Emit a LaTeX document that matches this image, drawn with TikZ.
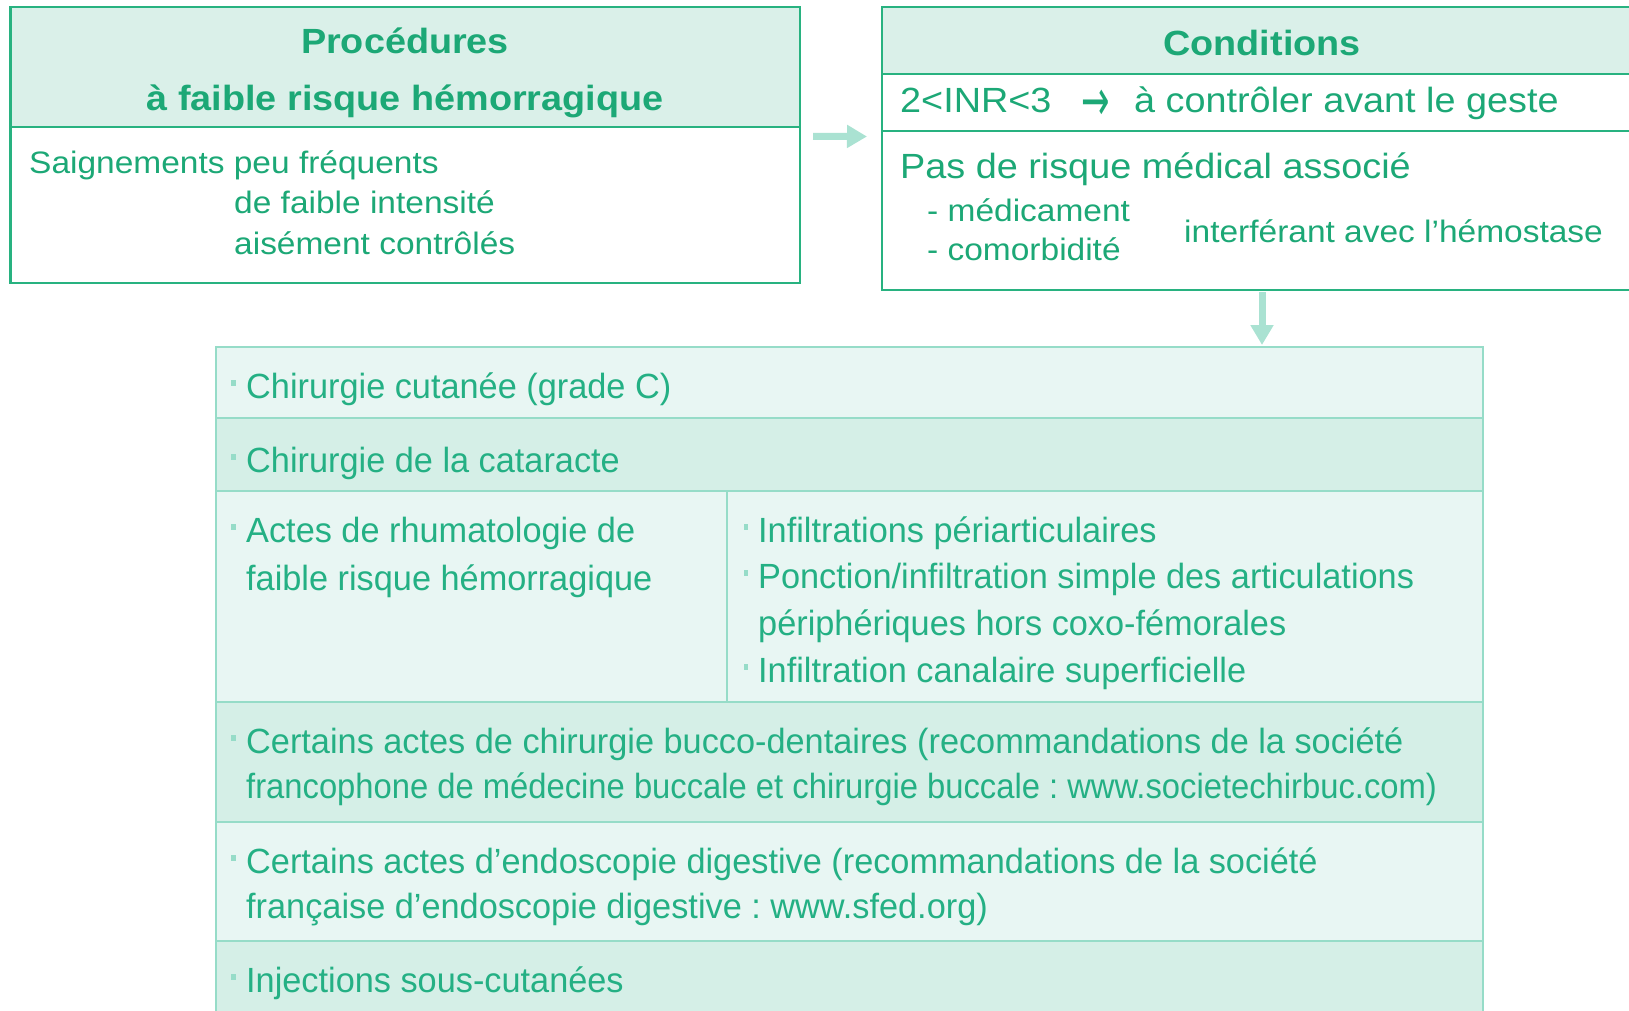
\documentclass[tikz,border=0pt]{standalone}
\usepackage{fontspec}
\setmainfont{Liberation Sans}
\newfontfamily\boxfont[FakeStretch=1.08]{Liberation Sans}
\newfontfamily\tabfont[FakeStretch=0.98]{Liberation Sans}
\newfontfamily\arrowfont{DejaVu Sans}
\usetikzlibrary{arrows.meta, positioning, calc}
\definecolor{hasgreen}{RGB}{28,168,118}
\definecolor{tabgreen}{RGB}{36,176,132}
\definecolor{hasline}{RGB}{40,178,128}
\definecolor{hashead}{RGB}{218,240,233}
\definecolor{taba}{RGB}{232,246,243}
\definecolor{tabb}{RGB}{213,239,231}
\definecolor{tabline}{RGB}{150,220,200}
\definecolor{hasarrow}{RGB}{170,226,210}

\begin{document}
\frenchspacing
\begin{tikzpicture}[x=1pt, y=-1pt,
    hbox/.style={draw=hasline, line width=2.2pt, fill=hashead, anchor=north west, inner sep=0pt, outer sep=0pt},
    bbox/.style={hbox, fill=white},
    rowa/.style={draw=tabline, line width=2.5pt, fill=taba, anchor=north west, inner sep=0pt, outer sep=0pt, minimum width=1267pt},
    rowb/.style={rowa, fill=tabb},
    htxt/.style={text=hasgreen, inner sep=0pt, anchor=base, font=\boxfont\bfseries\fontsize{35}{42}\selectfont},
    btxt/.style={text=hasgreen, inner sep=0pt, anchor=base west, font=\boxfont\fontsize{35}{42}\selectfont},
    stxt/.style={btxt, font=\boxfont\fontsize{31}{37}\selectfont},
    ttxt/.style={text=tabgreen, inner sep=0pt, anchor=base west, font=\tabfont\fontsize{35}{47}\selectfont},
    puce/.style={fill=tabline},
    flow/.style={draw=hasarrow, line width=7pt, -{Triangle[width=22pt,length=20pt]}}]

  \useasboundingbox (0,0) rectangle (1629,1010);

  % procedures box
  \node[hbox, minimum width=789.5pt, minimum height=119.5pt] (prochead) at (10.5,7.3) {};
  \node[bbox, minimum width=789.5pt, minimum height=156pt] (procbody) at (prochead.south west) {};
  \node[htxt] (proct1) at (405,53.5) {Procédures};
  \node[htxt] (proct2) at (405,110.5) {à faible risque hémorragique};
  \node[stxt] (saign1) at (29,173) {Saignements peu fréquents};
  \node[stxt] (saign2) at (234,213) {de faible intensité};
  \node[stxt] (saign3) at (234,254) {aisément contrôlés};

  % conditions box
  \node[hbox, minimum width=760pt, minimum height=66.7pt] (condhead) at (882,7.3) {};
  \node[bbox, minimum width=760pt, minimum height=56.7pt] (condinr) at (condhead.south west) {};
  \node[bbox, minimum width=760pt, minimum height=159.3pt] (condbody) at (condinr.south west) {};
  \node[htxt] (condt) at (1262,55) {Conditions};
  \node[btxt] (inrval) at (900,112) {2<INR<3};
  \node[btxt, font=\arrowfont\fontsize{34}{40}\selectfont] (inrarr) at (1081,112) {\raisebox{-8pt}{\scalebox{1}[1.7]{→}}};
  \node[btxt] (inrctl) at (1134,112) {à contrôler avant le geste};
  \node[btxt] (risque) at (900,178) {Pas de risque médical associé};
  \node[stxt] (medic) at (927,221) {- médicament};
  \node[stxt] (comorb) at (927,260) {- comorbidité};
  \node[stxt] (interf) at (1184,242) {interférant avec l’hémostase};

  % table of procedures
  \node[rowa, minimum height=71pt] (row1) at (216,347) {};
  \node[rowb, minimum height=73pt] (row2) at (row1.south west) {};
  \node[rowa, minimum height=211pt] (row3) at (row2.south west) {};
  \node[rowb, minimum height=120pt] (row4) at (row3.south west) {};
  \node[rowa, minimum height=119pt] (row5) at (row4.south west) {};
  \node[rowb, minimum height=90pt] (row6) at (row5.south west) {};
  \draw[tabline, line width=1.5pt] ([xshift=511pt]row3.north west) -- ([xshift=511pt]row3.south west);

  \node[ttxt] (cut) at (246,398) {Chirurgie cutanée (grade C)};
  \node[ttxt] (cata) at (246,472) {Chirurgie de la cataracte};
  \node[ttxt] (rhum1) at (246,542) {Actes de rhumatologie de};
  \node[ttxt] (rhum2) at (246,590) {faible risque hémorragique};
  \node[ttxt] (infil) at (758,542) {Infiltrations périarticulaires};
  \node[ttxt] (ponc1) at (758,588) {Ponction/infiltration simple des articulations};
  \node[ttxt] (ponc2) at (758,635) {périphériques hors coxo-fémorales};
  \node[ttxt] (canal) at (758,682) {Infiltration canalaire superficielle};
  \node[ttxt] (bucco1) at (246,753) {Certains actes de chirurgie bucco-dentaires (recommandations de la société};
  \node[ttxt] (bucco2) at (246,798) {\scalebox{0.955}[1]{francophone de médecine buccale et chirurgie buccale : www.societechirbuc.com)}};
  \node[ttxt] (endo1) at (246,873) {Certains actes d’endoscopie digestive (recommandations de la société};
  \node[ttxt] (endo2) at (246,918) {française d’endoscopie digestive : www.sfed.org)};
  \node[ttxt] (inject) at (246,992) {Injections sous-cutanées};

  \foreach \by in {398,472,542,753,873,992}
    \fill[puce] (230.5,\by-12) rectangle ++(5.5,-6);
  \foreach \by in {542,588,682}
    \fill[puce] (743.5,\by-12) rectangle ++(4,-6);

  % arrows
  \draw[flow] ($(prochead.south east)+(13,9.5)$) -- ($(condinr.south west)+(-15,5.8)$);
  \draw[flow] ([yshift=-2pt]condbody.south) -- ([yshift=2pt]condbody.south |- row1.north);
\end{tikzpicture}
\end{document}
